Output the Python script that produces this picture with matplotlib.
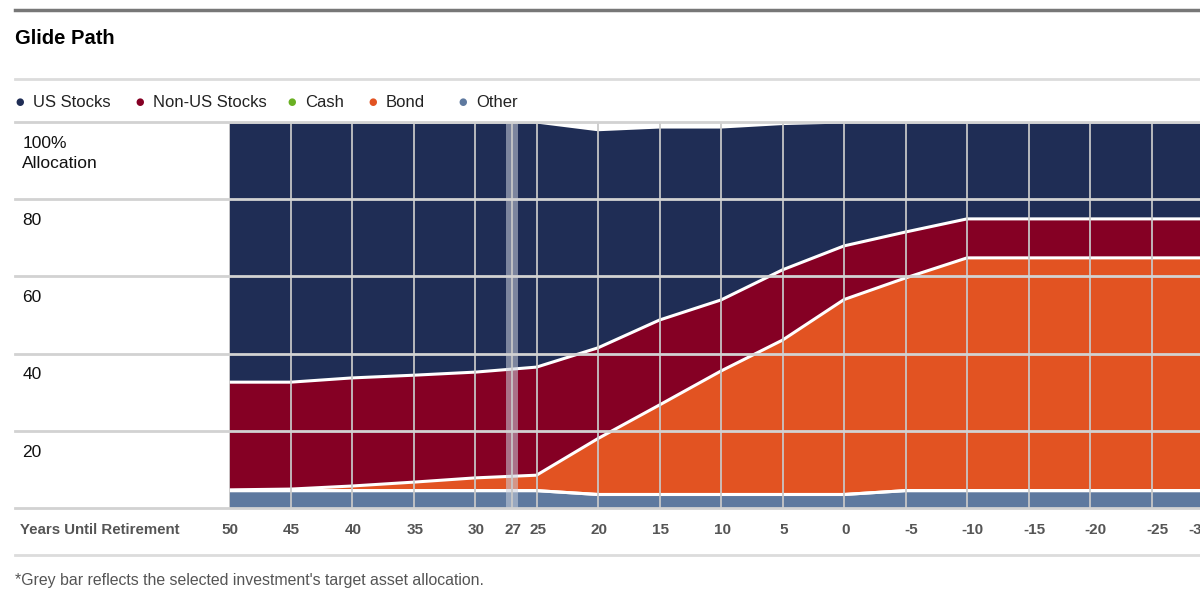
import numpy as np
import matplotlib
matplotlib.use('Agg')
import matplotlib.pyplot as plt
from matplotlib.lines import Line2D

plt.rcParams['font.family'] = ['Liberation Sans', 'DejaVu Sans']

# glide path data (percent allocation)
years = [50, 45, 40, 35, 30, 25, 20, 15, 10, 5, 0, -5, -10, -15, -20, -25, -30]
other = [4.5, 4.5, 4.5, 4.5, 4.5, 4.5, 3.5, 3.5, 3.5, 3.5, 3.5, 4.5, 4.5, 4.5, 4.5, 4.5, 4.5]
cash = [0] * 17
bond = [0.2, 0.4, 1.2, 2.2, 3.3, 4.0, 14.5, 23.2, 32.0, 40.0, 50.5, 55.1, 60.3, 60.3, 60.3, 60.3, 60.3]
non_us = [27.9, 27.7, 28.0, 27.7, 27.4, 28.0, 23.5, 22.0, 18.4, 18.2, 13.9, 11.9, 10.1, 10.1, 10.1, 10.1, 10.1]
us = [67.4, 67.4, 66.3, 65.5, 64.8, 63.5, 56.5, 50.0, 44.8, 37.9, 32.1, 28.5, 25.1, 25.1, 25.1, 25.1, 25.1]

tick_years = [50, 45, 40, 35, 30, 27, 25, 20, 15, 10, 5, 0, -5, -10, -15, -20, -25, -30]
selected = 27

names = ['US Stocks', 'Non-US Stocks', 'Cash', 'Bond', 'Other']
colors = {'US Stocks': '#1f2d55', 'Non-US Stocks': '#850024', 'Cash': '#6ab023',
          'Bond': '#e25322', 'Other': '#5e799f'}

fig = plt.figure(figsize=(12, 5.95), dpi=100)
ax = fig.add_axes([229 / 1200, 1 - 508 / 595, 971 / 1200, 386 / 595])

x = np.array(years)
layers = [other, cash, bond, non_us, us]
lnames = ['Other', 'Cash', 'Bond', 'Non-US Stocks', 'US Stocks']
base = np.zeros(len(years))
for vals, n in zip(layers, lnames):
    top = base + np.array(vals)
    ax.fill_between(x, base, top, color=colors[n], lw=0, zorder=1)
    base = top
# white separators
base = np.zeros(len(years))
for vals in layers:
    base = base + np.array(vals)
    ax.plot(x, base, color='white', lw=2.2, zorder=2)

# grey bar for selected fund
ax.axvspan(selected + 0.5, selected - 0.5, color='#c9cfdc', alpha=0.55, lw=0, zorder=3)

# grid
for t in tick_years:
    ax.axvline(t, color='#c8c8c8', lw=1.4, alpha=0.9, zorder=4)
for v in [0, 20, 40, 60, 80, 100]:
    ax.plot([-0.22, 1], [v, v], transform=ax.get_yaxis_transform(), color='#d2d2d2',
            lw=2, clip_on=False, zorder=4)

ax.set_xlim(50, -28.94)
ax.set_ylim(0, 100)
ax.set_xticks([])
ax.set_yticks([])
for s in ax.spines.values():
    s.set_visible(False)

# y labels
ylab = {100: '100%\nAllocation', 80: '80', 60: '60', 40: '40', 20: '20'}
for v, lab in ylab.items():
    ax.text(-0.213, v - 3.6, lab, transform=ax.get_yaxis_transform(), ha='left', va='top',
            fontsize=12.5, color='#111111', linespacing=1.4)

# x tick labels (last one sits on the right edge, partly cut like the source)
for t in tick_years[:-1]:
    shift = 0.45 if t < 0 else 0.1
    ax.text(t - shift, -5.8, str(t), ha='center', va='center', fontsize=11,
            fontweight='bold', color='#555555', clip_on=False)
ax.text(0.999, -5.8, str(tick_years[-1]), transform=ax.get_yaxis_transform(), ha='center',
        va='center', fontsize=11, fontweight='bold', color='#555555')
ax.text(-0.215, -5.8, 'Years Until Retirement', transform=ax.get_yaxis_transform(),
        ha='left', va='center', fontsize=10.8, fontweight='bold', color='#555555')

# title, legend, frame lines
fig.add_artist(Line2D([15 / 1200, 1], [1 - 10 / 595] * 2, color='#777777', lw=2.5))
fig.text(15 / 1200, 1 - 38 / 595, 'Glide Path', fontsize=14.5, fontweight='bold',
         color='black', va='center')
fig.add_artist(Line2D([15 / 1200, 1], [1 - 79 / 595] * 2, color='#dcdcdc', lw=2))
fig.add_artist(Line2D([15 / 1200, 1], [1 - 555 / 595] * 2, color='#dcdcdc', lw=2))

leg_x = {'US Stocks': 20, 'Non-US Stocks': 140, 'Cash': 292, 'Bond': 373, 'Other': 463}
for n in names:
    fig.text(leg_x[n] / 1200, 1 - 102 / 595, '\u25cf', color=colors[n], fontsize=7,
             ha='center', va='center', family='DejaVu Sans')
    fig.text((leg_x[n] + 13) / 1200, 1 - 102 / 595, n, color='#222222', fontsize=12,
             ha='left', va='center')

fig.text(15 / 1200, 1 - 581 / 595,
         "*Grey bar reflects the selected investment's target asset allocation.",
         fontsize=11.4, color='#555555', va='center')

fig.savefig('out.png', dpi=100)
